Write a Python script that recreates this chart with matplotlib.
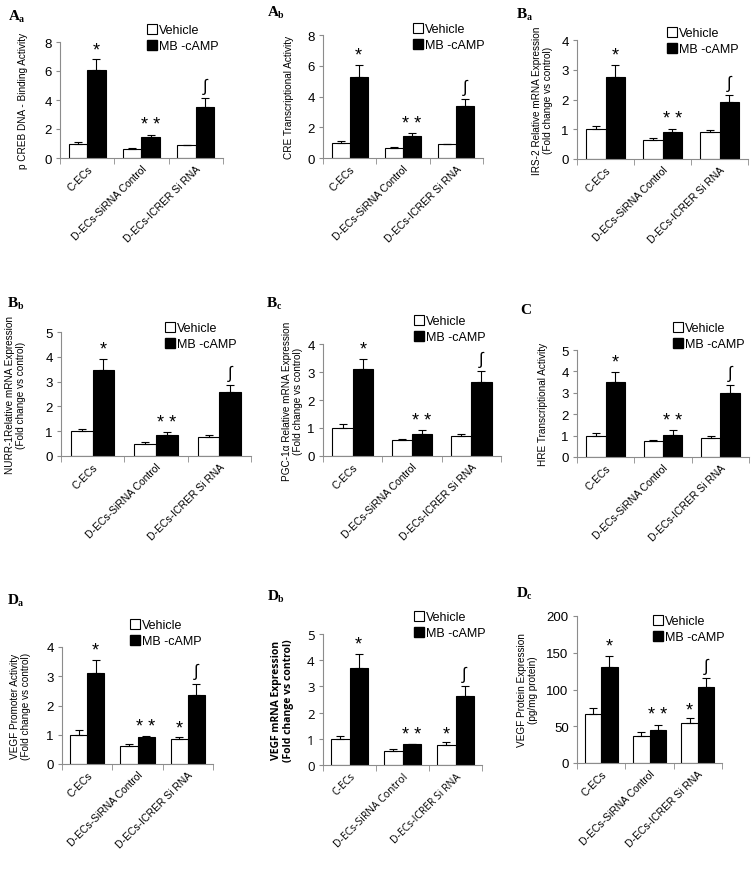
import matplotlib.pyplot as plt
from matplotlib.lines import Line2D
import numpy as np

plt.rcParams['font.family'] = ['Liberation Sans', 'DejaVu Sans']

groups = ["C-ECs", "D-ECs-SiRNA Control", "D-ECs-ICRER Si RNA"]

# values: vehicle / MB-cAMP means and upper error bars
aa_veh, aa_veh_err = [1.0, 0.62, 0.88], [0.10, 0.05, 0.05]
aa_mb, aa_mb_err = [6.1, 1.42, 3.55], [0.70, 0.20, 0.58]
ab_veh, ab_veh_err = [1.0, 0.65, 0.88], [0.12, 0.05, 0.06]
ab_mb, ab_mb_err = [5.3, 1.40, 3.35], [0.75, 0.20, 0.50]
ba_veh, ba_veh_err = [1.0, 0.63, 0.90], [0.12, 0.06, 0.07]
ba_mb, ba_mb_err = [2.75, 0.92, 1.93], [0.40, 0.10, 0.23]
bb_veh, bb_veh_err = [1.0, 0.50, 0.77], [0.10, 0.05, 0.07]
bb_mb, bb_mb_err = [3.45, 0.85, 2.58], [0.45, 0.10, 0.28]
bc_veh, bc_veh_err = [1.0, 0.56, 0.72], [0.13, 0.06, 0.05]
bc_mb, bc_mb_err = [3.10, 0.80, 2.65], [0.38, 0.12, 0.37]
c_veh, c_veh_err = [1.0, 0.75, 0.88], [0.10, 0.06, 0.08]
c_mb, c_mb_err = [3.50, 1.03, 2.97], [0.47, 0.22, 0.38]
da_veh, da_veh_err = [1.0, 0.62, 0.85], [0.15, 0.06, 0.08]
da_mb, da_mb_err = [3.10, 0.92, 2.35], [0.45, 0.03, 0.40]
db_veh, db_veh_err = [1.0, 0.55, 0.78], [0.12, 0.05, 0.08]
db_mb, db_mb_err = [3.72, 0.80, 2.62], [0.52, 0.0, 0.40]
dc_veh, dc_veh_err = [67, 37, 55], [8, 5, 6]
dc_mb, dc_mb_err = [131, 45, 103], [15, 7, 13]

W, H = 754, 870
fig = plt.figure(figsize=(W / 100, H / 100), dpi=100)

# (letter, sub, ylabel, ymax, ystep, axes px box (l, top, r, bottom), legend px, label px,
#  ylabel right edge px, data..., vehicle star)
panels = [
    ("A", "a", "p CREB DNA - Binding Activity", 8, 2, (60, 43, 223, 159), (148, 25), (9, 20), 28,
     aa_veh, aa_veh_err, aa_mb, aa_mb_err, False),
    ("A", "b", "CRE Transcriptional Activity", 8, 2, (323, 36, 483, 159), (414, 24), (268, 16), 294,
     ab_veh, ab_veh_err, ab_mb, ab_mb_err, False),
    ("B", "a", "IRS-2 Relative mRNA Expression\n(Fold change vs control)", 4, 1, (577, 41, 748, 160),
     (668, 28), (517, 18), 553, ba_veh, ba_veh_err, ba_mb, ba_mb_err, False),
    ("B", "b", "NURR-1Relative mRNA Expression\n(Fold change vs control)", 5, 1, (61, 333, 251, 457),
     (166, 323), (8, 307), 26, bb_veh, bb_veh_err, bb_mb, bb_mb_err, False),
    ("B", "c", "PGC-1α Relative mRNA Expression\n(Fold change vs control)", 4, 1, (323, 345, 501, 457),
     (415, 316), (267, 307), 303, bc_veh, bc_veh_err, bc_mb, bc_mb_err, False),
    ("C", "", "HRE Transcriptional Activity", 5, 1, (577, 351, 749, 458), (674, 323), (520, 314), 548,
     c_veh, c_veh_err, c_mb, c_mb_err, False),
    ("D", "a", "VEGF Promoter Activity\n(Fold change vs control)", 4, 1, (62, 648, 213, 765),
     (131, 620), (8, 604), 31, da_veh, da_veh_err, da_mb, da_mb_err, True),
    ("D", "b", "VEGF mRNA Expression\n(Fold change vs control)", 5, 1, (323, 635, 482, 766),
     (415, 612), (268, 600), 294, db_veh, db_veh_err, db_mb, db_mb_err, True),
    ("D", "c", "VEGF Protein Expression\n(pg/mg protein)", 200, 50, (577, 617, 722, 764),
     (654, 616), (517, 597), 538, dc_veh, dc_veh_err, dc_mb, dc_mb_err, True),
]

x = np.arange(len(groups))
bw = 0.34
grey = '#8c8c8c'
ekw = dict(ecolor='black', elinewidth=0.8, capsize=3, capthick=0.8)

for (let, sub, ylab, ymax, ystep, box, legpos, labpos, ylab_x,
     veh, veh_err, mb, mb_err, veh_star) in panels:
    l, t, r, b = box
    ax = fig.add_axes([l / W, 1 - b / H, (r - l) / W, (b - t) / H])
    ax.bar(x - bw / 2, veh, bw, color='white', edgecolor='black', linewidth=0.8,
           yerr=[np.zeros(3), veh_err], error_kw=ekw)
    ax.bar(x + bw / 2, mb, bw, color='black', edgecolor='black', linewidth=0.8,
           yerr=[np.zeros(3), mb_err], error_kw=ekw)

    # significance marks
    marks = ["*", "* *", "∫"]
    for i, m in enumerate(marks):
        top = mb[i] + mb_err[i]
        ax.annotate(m, (x[i] + bw / 2, top), xytext=(0, 1 if m != "∫" else 3),
                    textcoords='offset points', ha='center', va='bottom',
                    fontsize=13 if m != "∫" else 12, clip_on=False)
    if veh_star:
        ax.annotate("*", (x[2] - bw / 2, veh[2] + veh_err[2]), xytext=(0, 0),
                    textcoords='offset points', ha='center', va='bottom', fontsize=13)

    ax.set_xlim(-0.5, 2.5)
    ax.set_ylim(0, ymax)
    ax.set_yticks(np.arange(0, ymax + ystep / 2, ystep))
    ax.set_xticks(x)
    ax.set_xticklabels(groups, rotation=45, ha='right', rotation_mode='anchor', fontsize=7.5)
    ax.set_xticks([-0.5, 0.5, 1.5, 2.5], minor=True)
    ax.tick_params(axis='x', which='major', length=0, pad=4)
    ax.tick_params(axis='x', which='minor', length=4, color=grey, direction='out')
    ax.tick_params(axis='y', length=3, color=grey, labelsize=9.5, pad=3)
    for s in ['top', 'right']:
        ax.spines[s].set_visible(False)
    for s in ['left', 'bottom']:
        ax.spines[s].set_color(grey)
        ax.spines[s].set_linewidth(0.8)

    if let == "D" and sub == "b":
        ax.set_ylabel(ylab, fontsize=7.5, fontweight='bold', family=['Open Sans', 'DejaVu Sans'],
                      linespacing=1.1)
        for tl in ax.get_xticklabels() + ax.get_yticklabels():
            tl.set_family(['Open Sans', 'DejaVu Sans'])
    else:
        ax.set_ylabel(ylab, fontsize=7.2, linespacing=1.1)
    ax.yaxis.set_label_coords((ylab_x - l) / (r - l), 0.5)

    handles = [Line2D([], [], marker='s', ls='none', markersize=7, markerfacecolor='white',
                      markeredgecolor='black', markeredgewidth=0.8),
               Line2D([], [], marker='s', ls='none', markersize=7, markerfacecolor='black',
                      markeredgecolor='black')]
    ax.legend(handles, ["Vehicle", "MB -cAMP"], loc='upper left', frameon=False,
              bbox_to_anchor=(legpos[0] / W, 1 - legpos[1] / H), bbox_transform=fig.transFigure,
              fontsize=9, handlelength=0.6, handletextpad=0.3, labelspacing=0.35, borderpad=0,
              borderaxespad=0)

    fig.text(labpos[0] / W, 1 - labpos[1] / H, let, fontsize=11, fontweight='bold',
             family='Liberation Serif', va='baseline', ha='left')
    if sub:
        fig.text((labpos[0] + 10) / W, 1 - (labpos[1] + 2) / H, sub, fontsize=7, fontweight='bold',
                 family='Liberation Serif', va='baseline', ha='left')

fig.savefig('out.png', dpi=100)
